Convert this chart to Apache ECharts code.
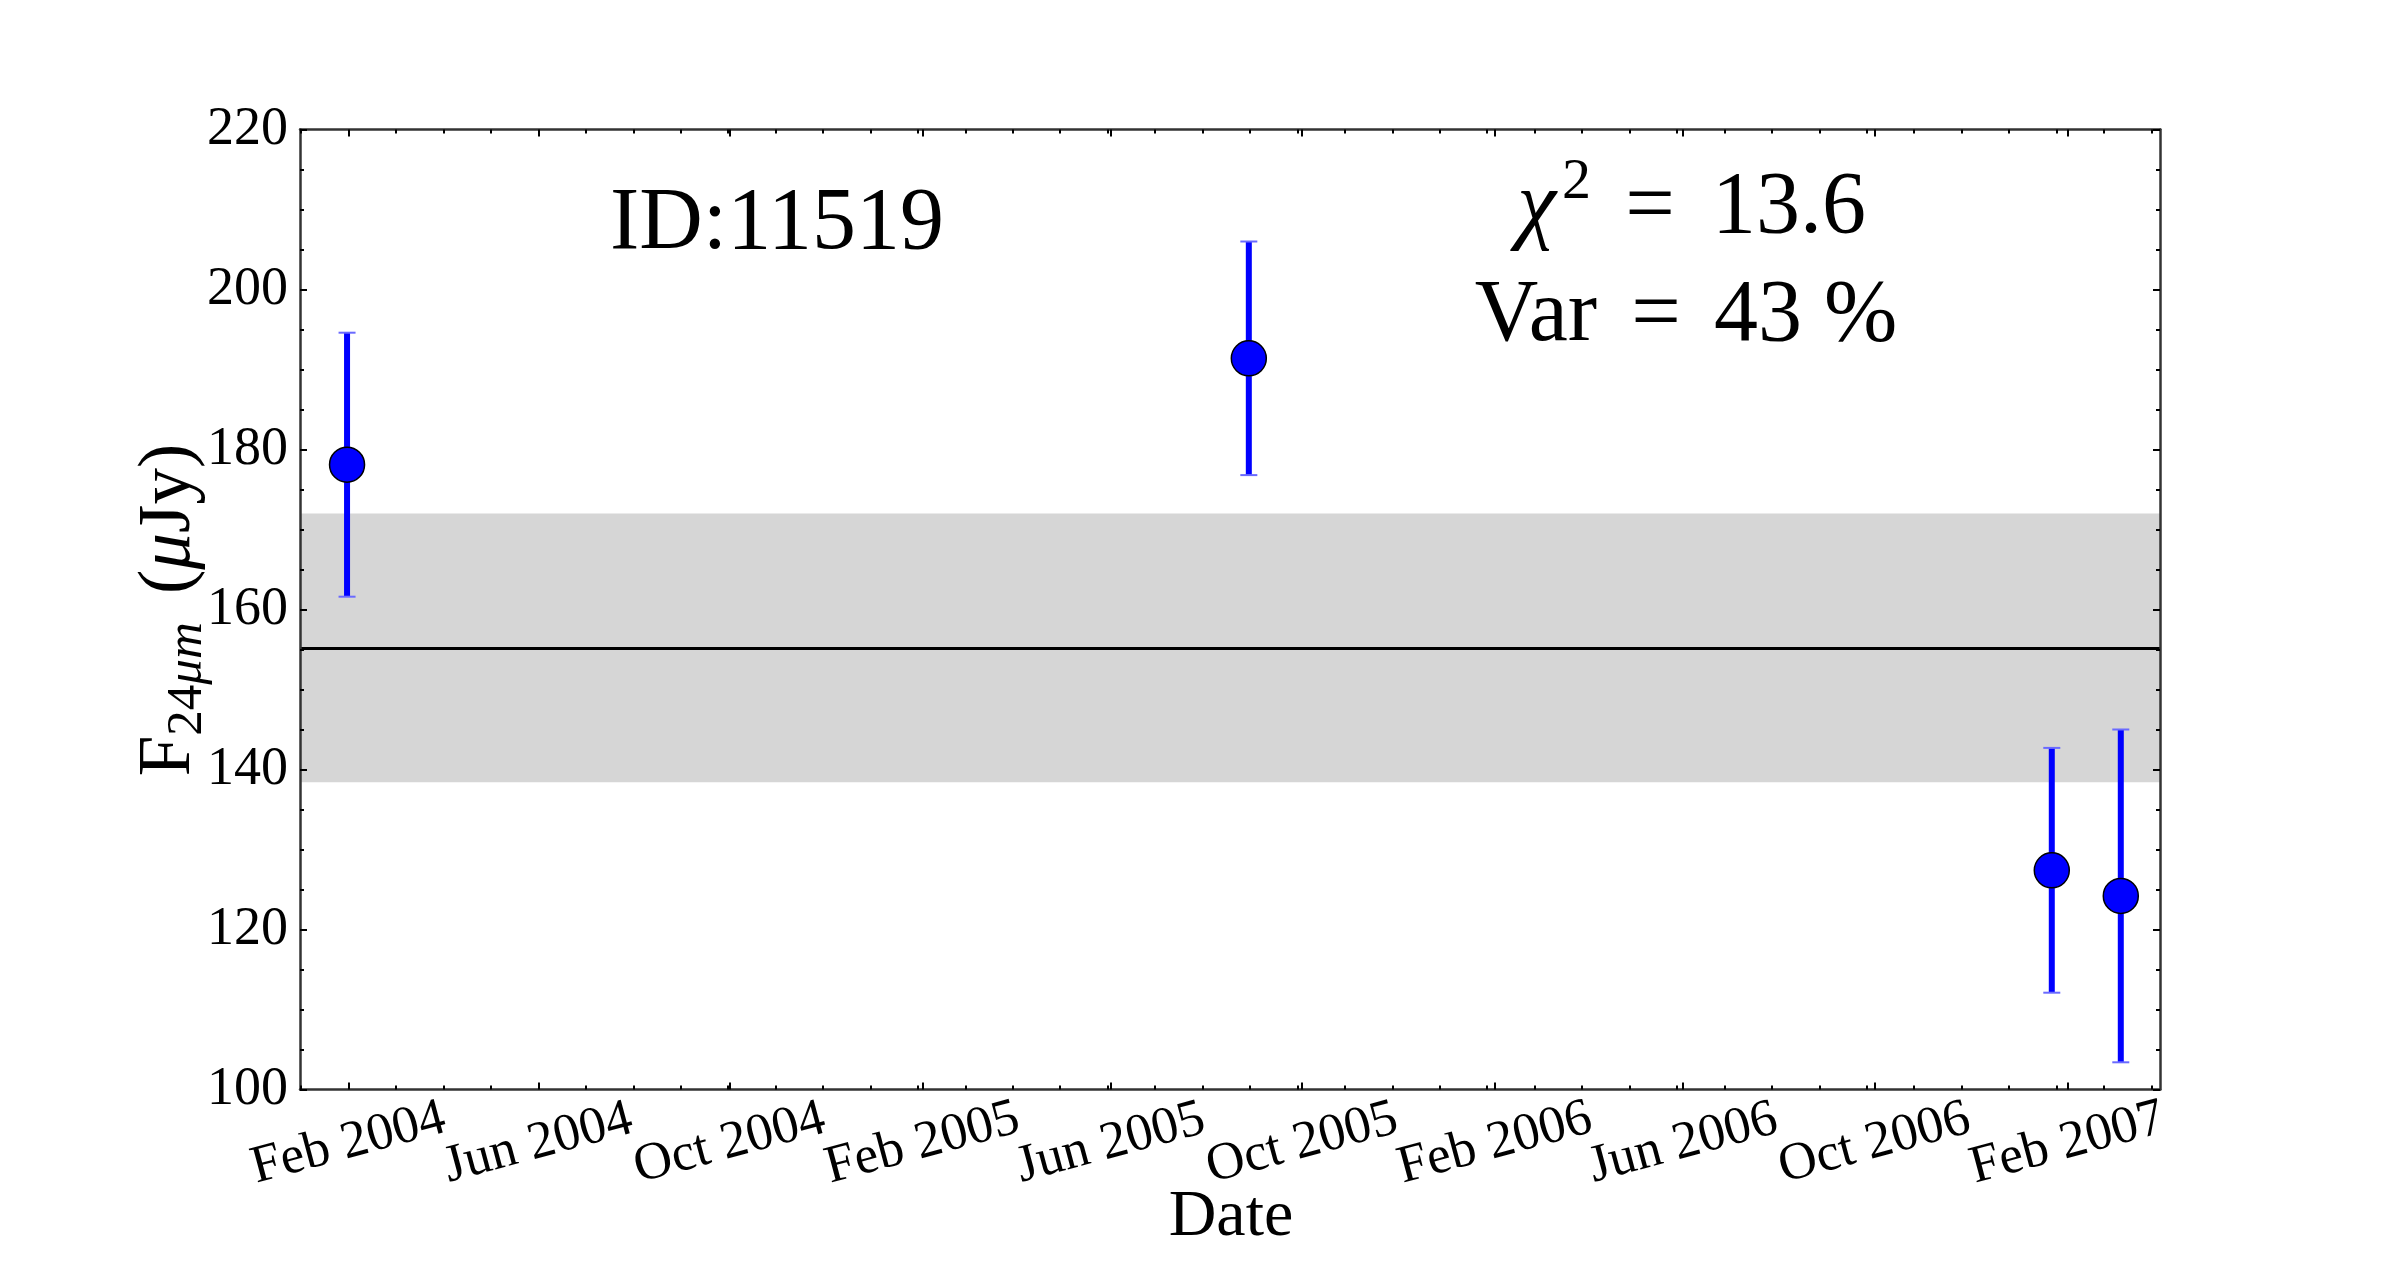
<!DOCTYPE html>
<html>
<head>
<meta charset="utf-8">
<script src="https://cdn.jsdelivr.net/npm/echarts@6/dist/echarts.min.js"></script>
<style>
  html, body { margin: 0; padding: 0; background: #fff; }
  #chart { width: 2400px; height: 1285px; }
</style>
</head>
<body>
<div id="chart"></div>
<script>
// observation dates and 24um fluxes (uJy) with 1-sigma errors
const obsDates = ['2004-01-31', '2005-08-28', '2007-01-22', '2007-03-07']
const fluxVals = [178.1, 191.4, 127.4, 124.2]
const fluxErrs = [16.5, 14.6, 15.3, 20.8]

// weighted mean and its spread (grey band)
const meanFlux = 155.2
const meanSpread = 16.8

// axis setup
const xRange = ['2004-01-01', '2007-04-01']
const majorTickDates = ['2004-02-01', '2004-06-01', '2004-10-01', '2005-02-01', '2005-06-01',
  '2005-10-01', '2006-02-01', '2006-06-01', '2006-10-01', '2007-02-01']
const yMin = 100, yMax = 220, yStep = 20

const FONT = 'Liberation Serif'
const MONTHS = ['Jan', 'Feb', 'Mar', 'Apr', 'May', 'Jun', 'Jul', 'Aug', 'Sep', 'Oct', 'Nov', 'Dec']

function ts(s) {
  const [y, m, d] = s.split('-').map(Number)
  return Date.UTC(y, m - 1, d)
}

const xMin = ts(xRange[0]), xMax = ts(xRange[1])
const majors = majorTickDates.map(ts)
// minor ticks: first major interval split in 4, repeated evenly (like AutoMinorLocator)
const minorStep = (majors[1] - majors[0]) / 4
const minors = []
for (let t = majors[0] - minorStep; t <= xMax; t += minorStep) {
  if (t >= xMin) minors.push(t)
}
// rotated labels touch each other, so they are spread over two axes to dodge overlap hiding
const labelsA = majors.filter((v, i) => i % 2 === 0)
const labelsB = majors.filter((v, i) => i % 2 === 1)

const pts = obsDates.map((d, i) => [ts(d), fluxVals[i]])
const bars = obsDates.map((d, i) => [ts(d), fluxVals[i] - fluxErrs[i], fluxVals[i] + fluxErrs[i]])

const axisLine = { show: true, lineStyle: { color: '#333', width: 2.5 } }
const tickStyle = { color: '#000', width: 2 }

// x is a plain value axis in ms so that custom tick values work
function xAx(position, values, len, withLine, labels) {
  return {
    type: 'value', position, min: xMin, max: xMax, z: 10, scale: true,
    axisLine: withLine ? axisLine : { show: false },
    axisTick: values ? { show: true, inside: true, length: len, lineStyle: tickStyle, customValues: values } : { show: false },
    axisLabel: labels ? {
      show: true, customValues: labels, hideOverlap: false,
      showMinLabel: true, showMaxLabel: true,
      formatter: (v) => { const d = new Date(v); return MONTHS[d.getUTCMonth()] + ' ' + d.getUTCFullYear() },
      rotate: 15, align: 'center', verticalAlign: 'middle', margin: 54,
      fontFamily: FONT, fontSize: 53, color: '#000'
    } : { show: false },
    splitLine: { show: false }
  }
}

function yAx(position, withLabels) {
  return {
    type: 'value', position, min: yMin, max: yMax, interval: yStep, z: 10,
    axisLine: axisLine,
    axisTick: { show: true, inside: true, length: 7, lineStyle: tickStyle },
    minorTick: { show: true, splitNumber: 4, length: 4, lineStyle: tickStyle },
    axisLabel: withLabels ? { show: true, margin: 12, fontFamily: FONT, fontSize: 54, color: '#000' } : { show: false },
    splitLine: { show: false },
    minorSplitLine: { show: false }
  }
}

const chart = echarts.init(document.getElementById('chart'))

const option = {
  backgroundColor: '#fff',
  animation: false,
  grid: { left: 300, right: 240, top: 129.5, bottom: 195.5 },
  xAxis: [
    xAx('bottom', majors, 7, true, labelsA),
    xAx('bottom', minors, 4, false, null),
    xAx('top', majors, 7, true, null),
    xAx('top', minors, 4, false, null),
    xAx('bottom', null, 0, false, labelsB)
  ],
  yAxis: [yAx('left', true), yAx('right', false)],
  graphic: [
    { type: 'text', x: 777, y: 225, style: { text: 'ID:11519', font: '88px "Liberation Serif"', fill: '#000', align: 'center', verticalAlign: 'middle' } },
    // chi^2 line
    { type: 'text', x: 1556, y: 209, style: { text: 'χ', font: 'italic 88px "Liberation Serif"', fill: '#000', align: 'right', verticalAlign: 'middle' } },
    { type: 'text', x: 1562, y: 183, style: { text: '2', font: '58px "Liberation Serif"', fill: '#000', align: 'left', verticalAlign: 'middle' } },
    { type: 'text', x: 1650, y: 209, style: { text: '=', font: '88px "Liberation Serif"', fill: '#000', align: 'center', verticalAlign: 'middle' } },
    { type: 'text', x: 1712, y: 209, style: { text: '13.6', font: '88px "Liberation Serif"', fill: '#000', align: 'left', verticalAlign: 'middle' } },
    // variability line
    { type: 'text', x: 1597, y: 317, style: { text: 'Var', font: '88px "Liberation Serif"', fill: '#000', align: 'right', verticalAlign: 'middle' } },
    { type: 'text', x: 1656, y: 317, style: { text: '=', font: '88px "Liberation Serif"', fill: '#000', align: 'center', verticalAlign: 'middle' } },
    { type: 'text', x: 1714, y: 317, style: { text: '43 %', font: '88px "Liberation Serif"', fill: '#000', align: 'left', verticalAlign: 'middle' } },
    // axis titles
    { type: 'text', x: 1231, y: 1218, style: { text: 'Date', font: '66px "Liberation Serif"', fill: '#000', align: 'center', verticalAlign: 'middle' } },
    {
      type: 'text', x: 170, y: 610, rotation: Math.PI / 2,
      style: {
        text: '{a|F}{b|24}{c|μm}{a| (}{d|μ}{a|Jy)}',
        align: 'center', verticalAlign: 'middle',
        rich: {
          a: { fontFamily: FONT, fontSize: 73, lineHeight: 86, fill: '#000' },
          b: { fontFamily: FONT, fontSize: 51, lineHeight: 51, verticalAlign: 'bottom', fill: '#000' },
          c: { fontFamily: FONT, fontSize: 51, lineHeight: 51, fontStyle: 'italic', verticalAlign: 'bottom', fill: '#000', padding: [0, 10, 0, 0] },
          d: { fontFamily: FONT, fontSize: 73, lineHeight: 86, fontStyle: 'italic', fill: '#000' }
        }
      }
    }
  ],
  series: [
    {
      // mean level and its spread
      type: 'line', data: [], z: 1, silent: true,
      markArea: {
        silent: true,
        itemStyle: { color: '#d6d6d6' },
        data: [[{ yAxis: meanFlux + meanSpread }, { yAxis: meanFlux - meanSpread }]]
      },
      markLine: {
        silent: true, symbol: 'none',
        label: { show: false },
        lineStyle: { color: '#000', width: 3, type: 'solid' },
        data: [{ yAxis: meanFlux }]
      }
    },
    {
      type: 'custom', z: 2, data: bars,
      encode: { x: 0, y: [1, 2] },
      renderItem: (params, api) => {
        const x = api.value(0)
        const lo = api.coord([x, api.value(1)])
        const hi = api.coord([x, api.value(2)])
        const cap = 8.5
        return {
          type: 'group',
          children: [
            { type: 'line', shape: { x1: hi[0], y1: hi[1], x2: lo[0], y2: lo[1] }, style: { stroke: '#0000ff', lineWidth: 6 } },
            { type: 'line', shape: { x1: hi[0] - cap, y1: hi[1], x2: hi[0] + cap, y2: hi[1] }, style: { stroke: '#6a6aff', lineWidth: 2 } },
            { type: 'line', shape: { x1: lo[0] - cap, y1: lo[1], x2: lo[0] + cap, y2: lo[1] }, style: { stroke: '#6a6aff', lineWidth: 2 } }
          ]
        }
      }
    },
    {
      type: 'scatter', z: 3, data: pts,
      symbol: 'circle', symbolSize: 35,
      itemStyle: { color: '#0000ff', borderColor: '#000', borderWidth: 1.5, opacity: 1 }
    }
  ]
}

chart.setOption(option)
</script>
</body>
</html>
